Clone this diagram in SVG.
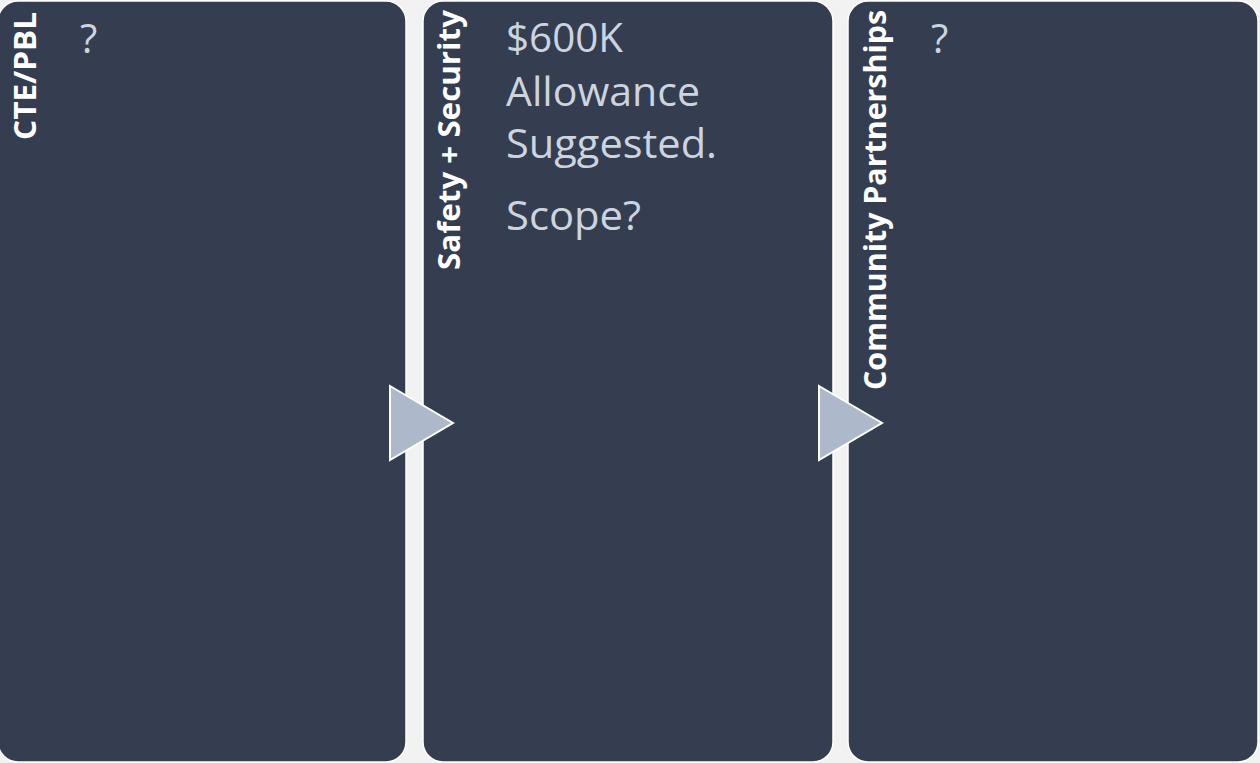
<svg xmlns="http://www.w3.org/2000/svg" width="1260" height="763" viewBox="0 0 1260 763">
<style>
.panel{fill:#343e50;stroke:#ffffff;stroke-width:1.5}
.title{font-family:"Open Sans","Liberation Sans",sans-serif;font-weight:700;font-size:31px;fill:#ffffff}
.body{font-family:"Open Sans","Liberation Sans",sans-serif;font-weight:400;font-size:40px;fill:#cdd4df}
.arrow{fill:#adb9ca;stroke:#ffffff;stroke-width:2}
</style>
<rect width="1260" height="763" fill="#f2f2f2"/>
<g id="node-cte">
<rect class="panel" x="-2" y="1" width="408" height="761" rx="20"/>
<text class="title" text-anchor="end" textLength="128" lengthAdjust="spacingAndGlyphs" transform="translate(36,12) rotate(-90)">CTE/PBL</text>
<text class="body" x="80" y="53">?</text>
</g>
<g id="node-safety">
<rect class="panel" x="423" y="1" width="410" height="761" rx="20"/>
<text class="title" text-anchor="end" textLength="260" lengthAdjust="spacingAndGlyphs" transform="translate(460,10) rotate(-90)">Safety + Security</text>
<text class="body" x="506" y="52" textLength="117" lengthAdjust="spacingAndGlyphs">$600K</text>
<text class="body" x="506" y="106" textLength="194" lengthAdjust="spacingAndGlyphs">Allowance</text>
<text class="body" x="506" y="158" textLength="211" lengthAdjust="spacingAndGlyphs">Suggested.</text>
<text class="body" x="506" y="230" textLength="135" lengthAdjust="spacingAndGlyphs">Scope?</text>
</g>
<g id="node-community">
<rect class="panel" x="848" y="1" width="410" height="761" rx="20"/>
<text class="title" text-anchor="end" textLength="380" lengthAdjust="spacingAndGlyphs" transform="translate(886,10) rotate(-90)">Community Partnerships</text>
<text class="body" x="931" y="53">?</text>
</g>
<g id="connectors">
<polygon class="arrow" points="390,386 453,423 390,460"/>
<polygon class="arrow" points="819,386 882,423 819,460"/>
</g>
</svg>
